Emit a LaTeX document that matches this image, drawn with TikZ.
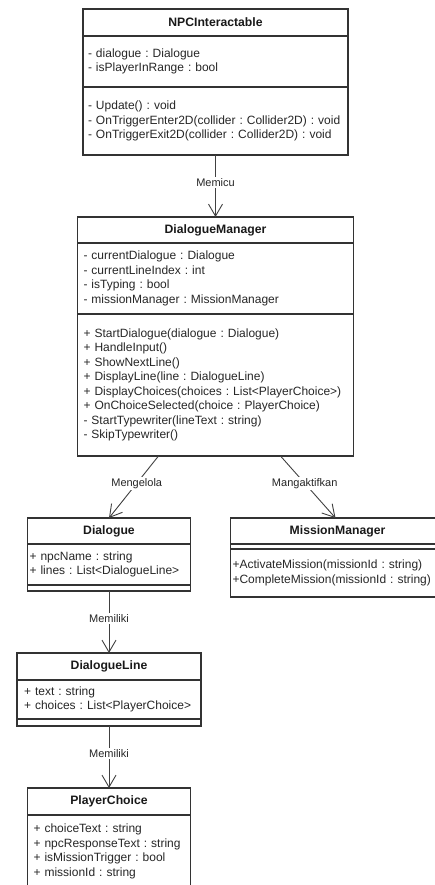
\documentclass[tikz,border=0pt]{standalone}
\usepackage{fontspec}
\setmainfont{Liberation Sans}
\usetikzlibrary{arrows.meta,positioning}

\begin{document}
\begin{tikzpicture}[
    >={Straight Barb[length=12pt,width=14pt]},
    node distance=62pt,
    head/.style={draw=black!80, line width=1.1pt, outer sep=0pt, inner sep=0pt,
                 text=black!90, font=\fontsize{12.2}{14.5}\selectfont\bfseries},
    part/.style={draw=black!80, line width=1.1pt, outer sep=0pt, align=left,
                 inner xsep=0pt, inner ysep=0pt, text=black!85,
                 font=\fontsize{12}{14.5}\selectfont\frenchspacing},
    lpad/.style={execute at begin node={\leftskip=#1}},
    assoc/.style={->, draw=black!75, line width=0.9pt},
    rel/.style={fill=white, inner sep=1.5pt, pos=0.44, text=black!85,
                font=\fontsize{11}{13}\selectfont}
  ]
  \useasboundingbox (0,0) rectangle (435pt,-885pt);
  \clip (0,0) rectangle (435pt,-885pt);

  %% NPCInteractable
  \node (npc)  [head, minimum width=265pt, minimum height=27pt] at (215.5pt,-22.5pt) {NPCInteractable};
  \node (npca) [part, lpad=5pt, below=0pt of npc, text width=265pt, minimum height=51pt]
       {- dialogue : Dialogue\\- isPlayerInRange : bool};
  \node (npcm) [part, lpad=5pt, below=0pt of npca, text width=265pt, minimum height=68pt]
       {- Update() : void\\- OnTriggerEnter2D(collider : Collider2D) : void\\- OnTriggerExit2D(collider : Collider2D) : void};

  %% DialogueManager
  \node (dm)  [head, below=of npcm, minimum width=276pt, minimum height=26pt] {DialogueManager};
  \node (dma) [part, lpad=6pt, below=0pt of dm, text width=276pt, minimum height=71pt]
       {- currentDialogue : Dialogue\\- currentLineIndex : int\\- isTyping : bool\\- missionManager : MissionManager};
  \node (dmm) [part, lpad=6pt, below=0pt of dma, text width=276pt, minimum height=142pt]
       {+ StartDialogue(dialogue : Dialogue)\\+ HandleInput()\\+ ShowNextLine()\\+ DisplayLine(line : DialogueLine)\\
        + DisplayChoices(choices : List<PlayerChoice>)\\+ OnChoiceSelected(choice : PlayerChoice)\\
        - StartTypewriter(lineText : string)\\- SkipTypewriter()};

  %% Dialogue
  \node (dlg)  [head, below=of dmm, xshift=-106.5pt, minimum width=163pt, minimum height=26pt] {Dialogue};
  \node (dlga) [part, lpad=2pt, below=0pt of dlg, text width=163pt, minimum height=41pt]
       {+ npcName : string\\+ lines : List<DialogueLine>};
  \node (dlgm) [part, below=0pt of dlga, minimum width=163pt, minimum height=6pt] {};

  %% MissionManager
  \node (mm)  [head, below=of dmm, xshift=122pt, minimum width=214pt, minimum height=26pt] {MissionManager};
  \node (mma) [part, below=0pt of mm, minimum width=214pt, minimum height=5pt] {};
  \node (mmm) [part, lpad=2pt, below=0pt of mma, text width=214pt, minimum height=48pt]
       {+ActivateMission(missionId : string)\\+CompleteMission(missionId : string)};

  %% DialogueLine
  \node (dl)  [head, below=of dlgm, minimum width=184pt, minimum height=27pt] {DialogueLine};
  \node (dla) [part, lpad=7pt, below=0pt of dl, text width=184pt, minimum height=39pt]
       {+ text : string\\+ choices : List<PlayerChoice>};
  \node (dlm) [part, below=0pt of dla, minimum width=184pt, minimum height=7pt] {};

  %% PlayerChoice
  \node (pc)  [head, below=of dlm, minimum width=163pt, minimum height=27pt] {PlayerChoice};
  \node (pca) [part, lpad=6pt, below=0pt of pc, text width=163pt, minimum height=73pt]
       {+ choiceText : string\\+ npcResponseText : string\\+ isMissionTrigger : bool\\+ missionId : string};

  %% Associations
  \draw[assoc] (npcm.south) -- node[rel]{Memicu} (dm.north);
  \draw[assoc] ([xshift=-57pt]dmm.south) -- node[rel]{Mengelola} (dlg.north);
  \draw[assoc] ([xshift=65pt]dmm.south) -- node[rel]{Mangaktifkan} ([xshift=-2pt]mm.north);
  \draw[assoc] (dlgm.south) -- node[rel]{Memiliki} (dl.north);
  \draw[assoc] (dlm.south) -- node[rel]{Memiliki} (pc.north);

\end{tikzpicture}
\end{document}
